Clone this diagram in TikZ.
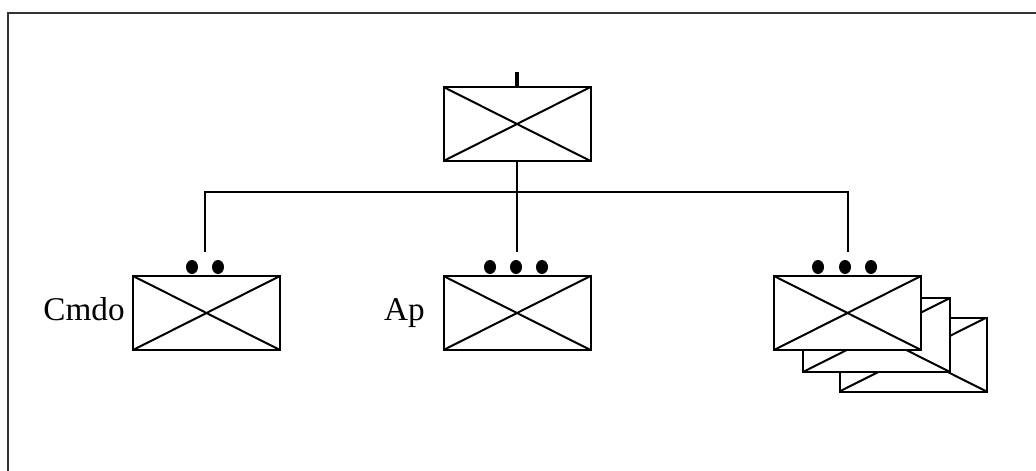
\documentclass[tikz,border=0pt]{standalone}
\usepackage{fontspec}
\setmainfont{Liberation Serif}
\usetikzlibrary{shapes.geometric}
\begin{document}
\begin{tikzpicture}[x=0.5pt,y=-0.5pt,
  xbox/.style={draw, fill=white, line width=1pt, inner sep=0pt, minimum width=73.5pt, minimum height=37pt,
    path picture={\draw[line width=1pt] (path picture bounding box.north west) -- (path picture bounding box.south east)
      (path picture bounding box.south west) -- (path picture bounding box.north east);}},
  dot/.style={ellipse, fill=black, inner sep=0pt, minimum width=6pt, minimum height=7pt},
  conn/.style={line width=0.8pt},
  lbl/.style={inner sep=0pt, font=\fontsize{16.6}{19}\selectfont}]
\useasboundingbox (0,0) rectangle (1036,470);
\begin{scope}
\clip (0,0) rectangle (1036,470);
\draw[line width=1.1pt, black!80] (8,13) rectangle (1100,540);
\end{scope}
% top box
\node[xbox] (top) at (517,124) {};
\coordinate (stub) at (517,72);
\draw[line width=1.6pt] (stub) -- (top.north);
% child boxes
\node[xbox] (left) at (206.5,313) {};
\node[xbox] (mid) at (517,313) {};
\node[xbox] (r3) at (913,354.5) {};
\node[xbox] (r2) at (876.5,335) {};
\node[xbox] (r1) at (847.5,313) {};
% connectors
\coordinate (jl) at (205,192);
\coordinate (jm) at (517,192);
\coordinate (jr) at (848,192);
\coordinate (el) at (205,252);
\coordinate (em) at (517,252);
\coordinate (er) at (848,252);
\draw[conn] (top.south) -- (em);
\draw[conn] (el) -- (jl) -- (jr) -- (er);
% dots
\node[dot] (d1) at (192,267) {};
\node[dot] (d2) at (218,267) {};
\node[dot] (d3) at (490,267) {};
\node[dot] (d4) at (516,267) {};
\node[dot] (d5) at (542,267) {};
\node[dot] (d6) at (818,267) {};
\node[dot] (d7) at (845,267) {};
\node[dot] (d8) at (871,267) {};
% labels
\node[lbl, anchor=base east] (cmdo) at (125,320) {Cmdo};
\node[lbl, anchor=base east] (ap) at (425,320) {Ap};
\end{tikzpicture}
\end{document}
